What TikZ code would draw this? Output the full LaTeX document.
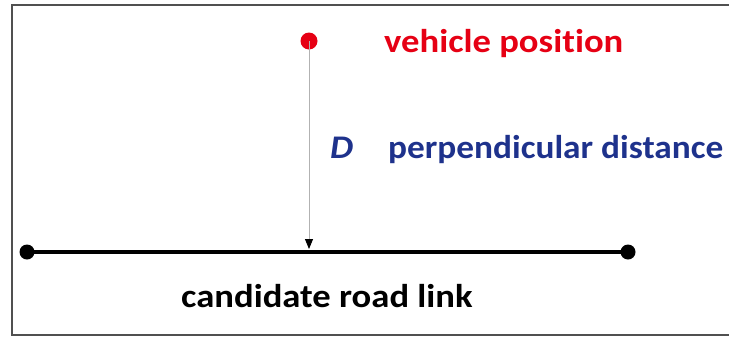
\documentclass[tikz,border=0pt]{standalone}
\usepackage{fontspec}
\setmainfont[Ligatures=NoCommon]{Carlito}
\usetikzlibrary{arrows.meta}
\definecolor{vred}{RGB}{230,0,20}
\definecolor{dblue}{RGB}{30,50,140}
\definecolor{framegray}{RGB}{80,80,80}
\newcommand{\wide}[2][1.11]{\scalebox{#1}[1]{#2}}
\tikzset{
  lbl/.style={anchor=base west,inner sep=0pt,font=\bfseries\fontsize{33}{36}\selectfont},
  enddot/.style={circle,fill=black,inner sep=0pt,minimum size=15pt},
}
\begin{document}
\begin{tikzpicture}[x=1pt,y=-1pt]
\useasboundingbox (0,0) rectangle (729,338);
\fill[white] (0,0) rectangle (729,338);
\draw[framegray,line width=2.2pt] (729,5) -- (12,5) -- (12,335) -- (729,335);
\node[circle,fill=vred,inner sep=0pt,minimum size=17pt] (veh) at (309,41) {};
\node[enddot] (a) at (27,252) {};
\node[enddot] (b) at (628,252) {};
\draw[line width=4.5pt] (a.center) -- (b.center);
\coordinate (foot) at (309,249);
\draw[gray!60,line width=1pt,-{Triangle[black,length=10pt,width=8pt]}] (veh.center) -- (foot);
\node[lbl,text=vred] (vp) at (384,52) {\wide{vehicle position}};
\node[lbl,text=dblue] (dd) at (330,158) {\wide{\itshape D}};
\node[lbl,text=dblue] (pd) at (388,158) {\wide[1.07]{perpendicular distance}};
\node[lbl,text=black] (crl) at (181,307) {\wide{candidate road link}};
\end{tikzpicture}
\end{document}
